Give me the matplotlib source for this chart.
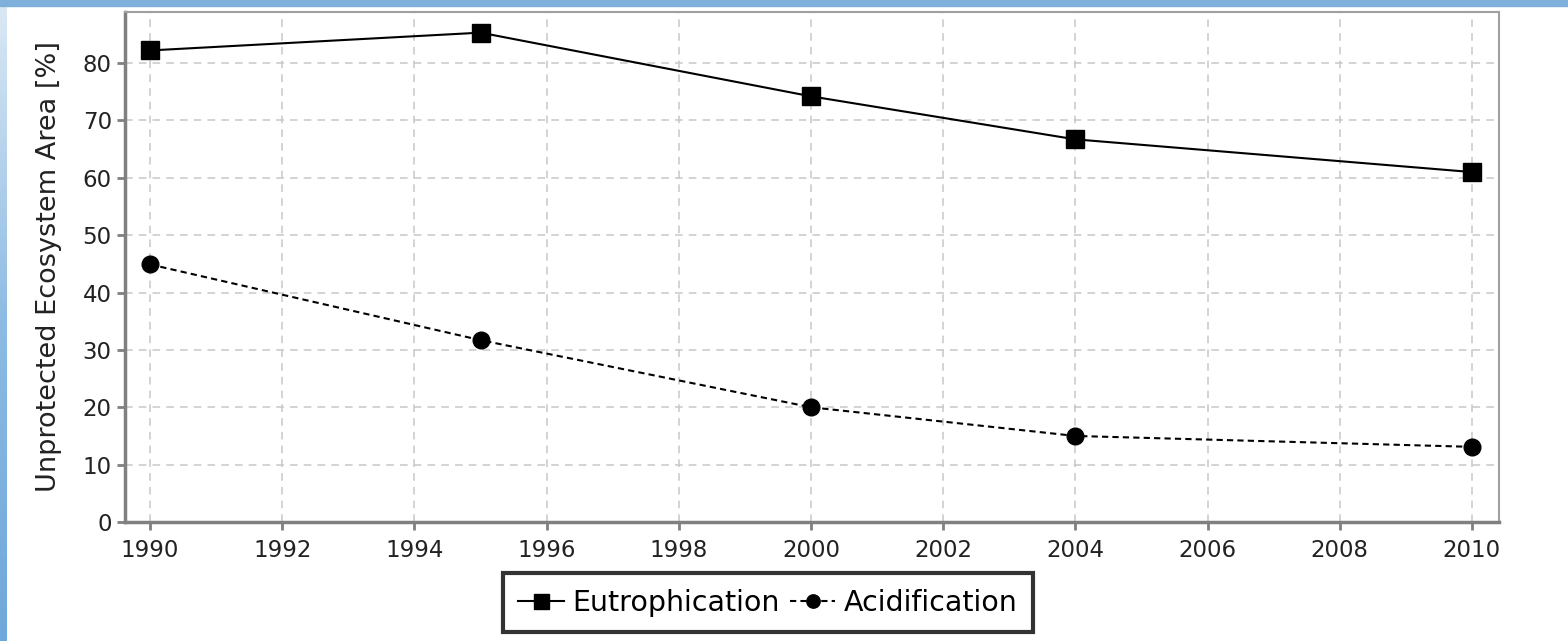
import matplotlib.pyplot as plt
from matplotlib.patches import Rectangle
import numpy as np

years_eu = [1990, 1995, 2000, 2004, 2010]
eutro = [82.2, 85.3, 74.2, 66.7, 61.0]

years_ac = [1990, 1995, 2000, 2004, 2010]
acid = [44.9, 31.7, 20.0, 15.0, 13.1]

xticks = list(range(1990, 2011, 2))
yticks = list(range(0, 81, 10))

W, H = 1568, 641
fig = plt.figure(figsize=(W / 100, H / 100), dpi=100)
fig.patch.set_facecolor("white")

# blue frame of the screenshot (left and top strips)
bg = fig.add_axes([0, 0, 1, 1], zorder=-10)
bg.set_axis_off()
grad = np.linspace(0, 1, 256).reshape(-1, 1)
bg.imshow(grad, extent=[0, 7 / W, 0, 1], aspect="auto",
          cmap=plt.matplotlib.colors.LinearSegmentedColormap.from_list(
              "b", ["#dce9f4", "#8dbbe3", "#6fa8da"]), origin="upper")
bg.add_patch(Rectangle((0, 1 - 6 / H), 1, 6 / H, color="#7fb0dc"))
bg.set_xlim(0, 1)
bg.set_ylim(0, 1)

ax = fig.add_axes([125 / W, 1 - 522 / H, (1499 - 125) / W, (522 - 12) / H])

ax.plot(years_eu, eutro, "-", color="black", lw=1.5, marker="s",
        markersize=13.5, label="Eutrophication")
ax.plot(years_ac, acid, color="black", lw=1.5, linestyle=(0, (3, 2)),
        marker="o", markersize=12, label="Acidification")

ax.set_xlim(1989.62, 2010.41)
ax.set_ylim(0, 88.9)
ax.set_xticks(xticks)
ax.set_yticks(yticks)
ax.grid(True, color="#c8c8c8", linestyle=(0, (5, 4)), linewidth=1.1)
ax.set_axisbelow(True)

for s in ["left", "bottom"]:
    ax.spines[s].set_color("#808080")
    ax.spines[s].set_linewidth(2.5)
for s in ["top", "right"]:
    ax.spines[s].set_color("#a0a0a0")
    ax.spines[s].set_linewidth(1.5)
ax.tick_params(colors="#808080", labelcolor="#222222", width=2,
               length=6, labelsize=16.5, direction="out")
ax.tick_params(axis="x", pad=6)

ax.set_ylabel("Unprotected Ecosystem Area [%]", fontsize=19.5, color="#222222",
              labelpad=15)

leg = fig.legend(*ax.get_legend_handles_labels(), loc="upper center",
                 bbox_to_anchor=(768 / W, 1 - 573 / H), ncol=2,
                 fontsize=20.5, frameon=True, fancybox=False, handlelength=1.6,
                 handletextpad=0.3, columnspacing=0.35, borderpad=0.55,
                 borderaxespad=0, markerscale=0.8)
leg.get_frame().set_edgecolor("black")
leg.get_frame().set_linewidth(3)

fig.savefig("out.png", dpi=100)
